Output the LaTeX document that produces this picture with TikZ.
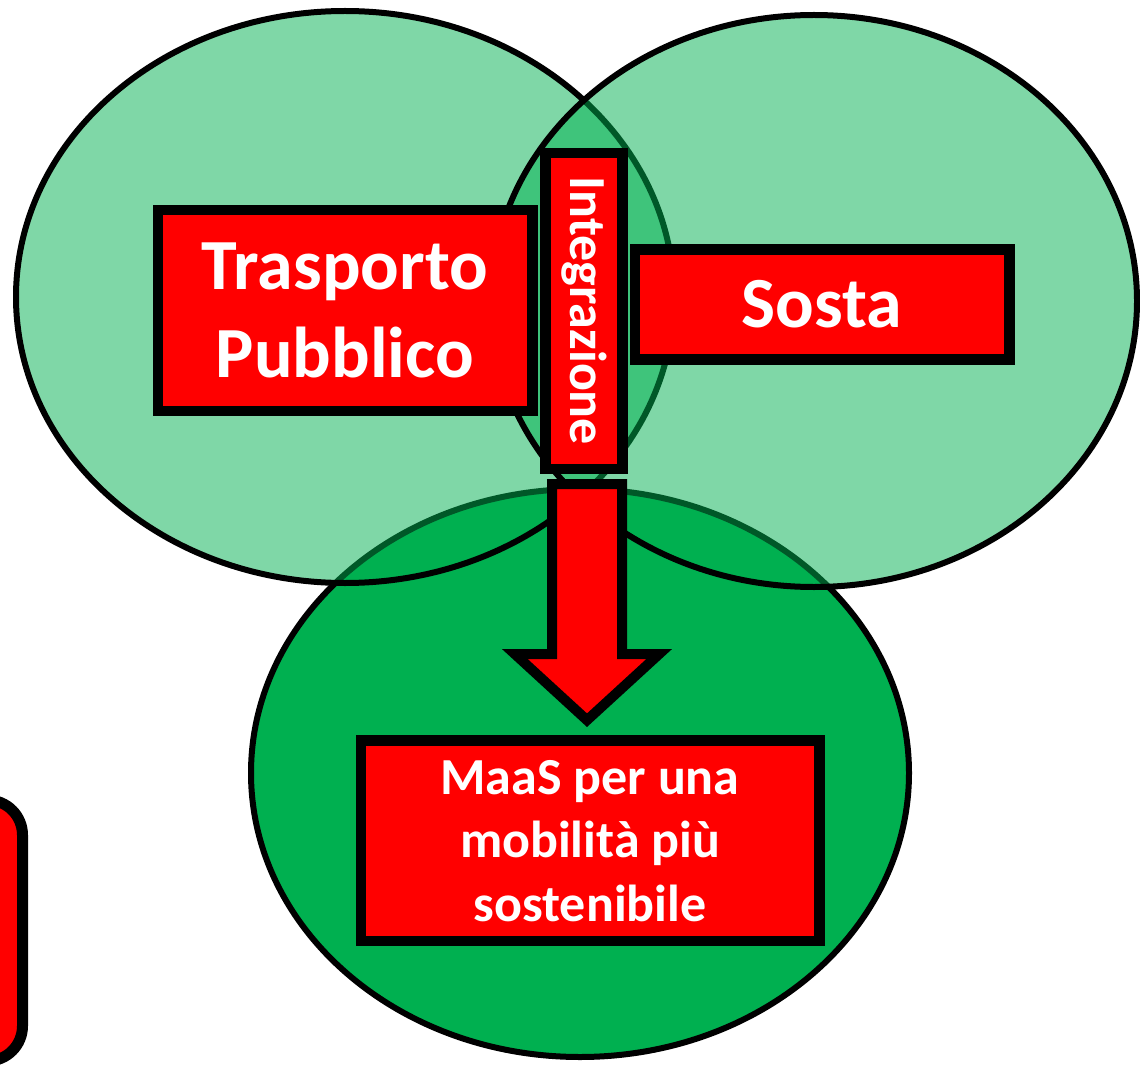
\documentclass[tikz,border=0pt]{standalone}
\usepackage{fontspec}
\setmainfont{Carlito}
\usetikzlibrary{positioning,calc}
\definecolor{maasgreen}{RGB}{0,176,80}
\definecolor{boxred}{RGB}{255,0,0}

\begin{document}
\begin{tikzpicture}[x=1pt,y=-1pt,
  zone/.style={draw=black,line width=6pt,fill=maasgreen},
  halfzone/.style={zone,fill opacity=0.5},
  redbox/.style={draw=black,line width=10.5pt,fill=boxred,text=white,inner sep=0pt,align=center},
  blockarrow/.style={draw=black,line width=10pt,fill=boxred}]

\useasboundingbox (0,0) rectangle (1140,1067);
\clip (0,0) rectangle (1140,1067);

% piece of a box cut off at the left border
\draw[line width=11pt,fill=boxred,rounded corners=35pt] (-100,800) rectangle (22.5,1061);

% the three areas
\draw[zone] (580,773) ellipse [x radius=329,y radius=284];
\draw[halfzone] (345,297) ellipse [x radius=329,y radius=286];
\draw[halfzone] (814,301) ellipse [x radius=323,y radius=286];

\node[redbox,minimum width=374.5pt,minimum height=201pt,font=\bfseries\fontsize{72}{88}\selectfont] (trasporto) at (345,310.5) {Trasporto\\Pubblico};
\node[redbox,minimum width=374.5pt,minimum height=110pt,font=\bfseries\fontsize{72}{88}\selectfont] (sosta) at (822,304.5) {Sosta};
\node[redbox,rotate=-90,minimum width=316pt,minimum height=77pt,font=\bfseries\fontsize{52}{62}\selectfont] (integr) at (584,311) {Integrazione};
\node[redbox,minimum width=458.5pt,minimum height=200.5pt,font=\bfseries\fontsize{52}{63.5}\selectfont] (maas) at (590,840.7) {MaaS per una\\mobilità più\\sostenibile};

% big arrow down to the MaaS box
\coordinate (tip) at ($(maas.north)+(-3,-15)$);
\draw[blockarrow] (tip) -- ++(72,-66) -- ++(-37,0) -- ++(0,-170) -- ++(-70,0) -- ++(0,170) -- ++(-37,0) -- cycle;
\end{tikzpicture}
\end{document}
